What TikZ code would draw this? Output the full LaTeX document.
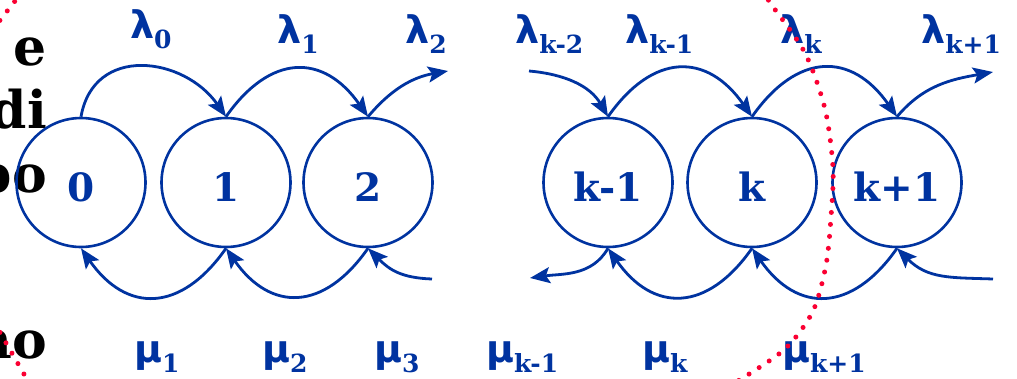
\documentclass[tikz,border=0pt]{standalone}
\usepackage{fontspec}
\usetikzlibrary{arrows.meta}
\setmainfont{DejaVu Serif}
\newfontfamily\gfont{DejaVu Sans}
\definecolor{cblue}{RGB}{0,51,160}
\definecolor{cred}{RGB}{250,0,50}
\newcommand{\mylab}[2]{{\fontsize{38}{40}\selectfont\gfont\bfseries #1}\raisebox{-10pt}{\fontsize{25}{27}\selectfont\bfseries #2}}
\begin{document}
\begin{tikzpicture}[x=1pt,y=-1pt,
  state/.style={circle,draw=cblue,line width=2.6pt,minimum size=129pt,inner sep=0pt,
    text=cblue,text height=38pt,text depth=0pt,font=\fontsize{39}{41}\selectfont\bfseries},
  link/.style={draw=cblue,line width=2.8pt,-{Stealth[length=20pt,width=16pt,inset=4pt]}},
  lab/.style={anchor=base west,inner sep=0pt,text=cblue},
  bgtext/.style={anchor=base east,inner sep=0pt,font=\fontsize{52}{54}\selectfont\bfseries},
  reddots/.style={draw=cred,line width=5pt,line cap=round,dash pattern=on 0pt off 12pt}]
\useasboundingbox (0,0) rectangle (1017,378);
\clip (0,0) rectangle (1017,378);

% background (cut-off) text
\node[bgtext] (t1) at (47,65) {e};
\node[bgtext] (t2) at (47,128) {di};
\node[bgtext] (t3) at (47,192) {po};
\node[bgtext] (t4) at (47,358) {no};

% states
\node[state] (s0)  at (81,182.5)  {0};
\node[state] (s1)  at (226,182.5) {1};
\node[state] (s2)  at (368,182.5) {2};
\node[state] (sk1) at (608,182.5) {k-1};
\node[state] (sk)  at (752,182.5) {k};
\node[state] (sk2) at (897,182.5) {k+1};

% free ends
\coordinate (a2)  at (448,71);
\coordinate (b2)  at (432,279);
\coordinate (ak)  at (529,71);
\coordinate (bk)  at (530,278);
\coordinate (ak2) at (993,72);
\coordinate (bk2) at (993,279);

% arrival arcs (top)
\draw[link] (s0.north) to[out=80,in=125,looseness=1.3] (s1.north);
\draw[link] (s1.north) to[out=55,in=125,looseness=1.4] (s2.north);
\draw[link] (s2.north) to[out=50,in=190] (a2);
\draw[link] (ak) to[out=-5,in=120] (sk1.north);
\draw[link] (sk1.north) to[out=55,in=125,looseness=1.4] (sk.north);
\draw[link] (sk.north) to[out=55,in=125,looseness=1.4] (sk2.north);
\draw[link] (sk2.north) to[out=50,in=190] (ak2);

% departure arcs (bottom)
\draw[link] (s1.south) to[out=235,in=-55,looseness=1.4] (s0.south);
\draw[link] (s2.south) to[out=235,in=-55,looseness=1.4] (s1.south);
\draw[link] (b2) to[out=178,in=-45,looseness=1.1] (s2.south);
\draw[link] (sk1.south) to[out=240,in=8] (bk);
\draw[link] (sk.south) to[out=235,in=-55,looseness=1.4] (sk1.south);
\draw[link] (sk2.south) to[out=235,in=-55,looseness=1.4] (sk.south);
\draw[link] (bk2) to[out=178,in=-45,looseness=1.1] (sk2.south);

% rate labels
\node[lab] (L0)  at (130,38) {\mylab{λ}{0}};
\node[lab] (L1)  at (277,43) {\mylab{λ}{1}};
\node[lab] (L2)  at (405,43) {\mylab{λ}{2}};
\node[lab] (Lk2) at (515,43) {\mylab{λ}{k-2}};
\node[lab] (Lk1) at (625,43) {\mylab{λ}{k-1}};
\node[lab] (Lk)  at (780,43) {\mylab{λ}{k}};
\node[lab] (Lk3) at (921,43) {\mylab{λ}{k+1}};
\node[lab] (M1)  at (134,362) {\mylab{μ}{1}};
\node[lab] (M2)  at (262,362) {\mylab{μ}{2}};
\node[lab] (M3)  at (374,362) {\mylab{μ}{3}};
\node[lab] (Mk1) at (486,362) {\mylab{μ}{k-1}};
\node[lab] (Mk)  at (642,362) {\mylab{μ}{k}};
\node[lab] (Mk2) at (782,362) {\mylab{μ}{k+1}};

% red dotted cut lines
\draw[reddots] plot[smooth] coordinates {(762,-10) (771,4) (805,53) (825,109) (833,168) (831,217) (826,265) (813,311) (786,348) (746,376) (725,388)};
\draw[reddots] (22,-8) -- (-6,28);
\draw[reddots] (-6,322) -- (32,388);
\end{tikzpicture}
\end{document}
